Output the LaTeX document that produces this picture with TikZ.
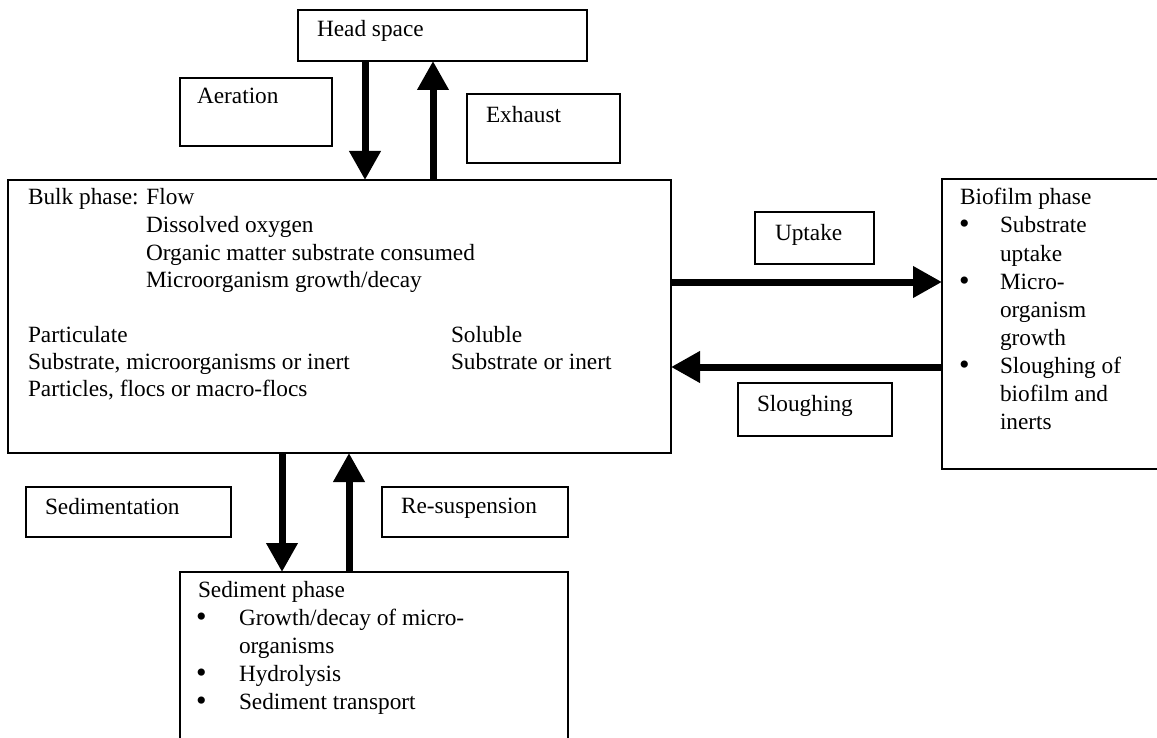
\documentclass[tikz,border=0pt]{standalone}
\usepackage{fontspec}
\setmainfont{Liberation Serif}
\usetikzlibrary{arrows.meta}
\newcommand\fs{\fontsize{11.65}{14}\selectfont}
\newcommand\mybox[5]{\node[box, minimum width=#4*0.5pt, minimum height=#5*0.5pt] (#1) at (#2,#3) {};}
\tikzset{
  box/.style={draw, line width=1pt, inner sep=0pt, outer sep=0pt, anchor=north west},
  txt/.style={anchor=base west, inner sep=0pt, outer sep=0pt, font=\fs},
  bul/.style={anchor=base west, inner sep=0pt, outer sep=0pt, font=\fontsize{15}{15}\selectfont},
  flow/.style={line width=3.5pt, -{Triangle[length=14.5pt,width=15pt]}}
}
\begin{document}
\begin{tikzpicture}[x=0.5pt, y=-0.5pt]
\useasboundingbox (0,0) rectangle (1157,738);
\clip (0,0) rectangle (1157,738);
\fill[white] (0,0) rectangle (1157,738);
% boxes
\mybox{head}{298}{10}{289}{51}
\mybox{aer}{180}{78}{152}{68}
\mybox{exh}{467}{94}{153}{69}
\mybox{bulk}{8}{180}{663}{273}
\mybox{upt}{755}{212}{119}{52}
\mybox{slo}{738}{383}{154}{53}
\mybox{bio}{942}{179}{240}{290}
\mybox{sedb}{26}{487}{205}{50}
\mybox{resb}{382}{487}{186}{50}
\mybox{sed}{180}{572}{388}{190}
% labels
\node[txt] (thead) at (317,37) {Head space};
\node[txt] (taer) at (197,104) {Aeration};
\node[txt] (texh) at (486,123) {Exhaust};
\node[txt] (tupt) at (775,240) {Uptake};
\node[txt] (tslo) at (757,411) {Sloughing};
\node[txt] (tsedb) at (45,514) {Sedimentation};
\node[txt] (tresb) at (401,513) {Re-suspension};
% bulk text
\node[txt] (b1) at (28,205) {Bulk phase: Flow};
\node[txt] (b2) at (146,232) {Dissolved oxygen};
\node[txt] (b3) at (146,260) {Organic matter substrate consumed};
\node[txt] (b4) at (146,287) {Microorganism growth/decay};
\node[txt] (b5) at (28,342) {Particulate};
\node[txt] (b6) at (28,369) {Substrate, microorganisms or inert};
\node[txt] (b7) at (28,396) {Particles, flocs or macro-flocs};
\node[txt] (b8) at (451,342) {Soluble};
\node[txt] (b9) at (451,369) {Substrate or inert};
% biofilm text
\node[txt] (f0) at (960,205) {Biofilm phase};
\node[bul] (fb1) at (959,234) {•};
\node[txt] (f1) at (1000,233) {Substrate};
\node[txt] (f2) at (1000,261) {uptake};
\node[bul] (fb2) at (959,290) {•};
\node[txt] (f3) at (1000,289) {Micro-};
\node[txt] (f4) at (1000,317) {organism};
\node[txt] (f5) at (1000,345) {growth};
\node[bul] (fb3) at (959,374) {•};
\node[txt] (f6) at (1000,373) {Sloughing of};
\node[txt] (f7) at (1000,401) {biofilm and};
\node[txt] (f8) at (1000,429) {inerts};
% sediment text
\node[txt] (s0) at (198,597) {Sediment phase};
\node[bul] (sb1) at (196,626) {•};
\node[txt] (s1) at (239,625) {Growth/decay of micro-};
\node[txt] (s2) at (239,653) {organisms};
\node[bul] (sb2) at (196,682) {•};
\node[txt] (s3) at (239,681) {Hydrolysis};
\node[bul] (sb3) at (196,710) {•};
\node[txt] (s4) at (239,709) {Sediment transport};
% arrow positions
\coordinate (ax1) at (365,0);
\coordinate (ax2) at (433,0);
\coordinate (ax3) at (282,0);
\coordinate (ax4) at (349,0);
\coordinate (ay1) at (0,282);
\coordinate (ay2) at (0,367);
% connectors
\draw[flow] (head.south -| ax1) -- (bulk.north -| ax1);
\draw[flow] (bulk.north -| ax2) -- (head.south -| ax2);
\draw[flow] (bulk.east |- ay1) -- (bio.west |- ay1);
\draw[flow] (bio.west |- ay2) -- (bulk.east |- ay2);
\draw[flow] (bulk.south -| ax3) -- (sed.north -| ax3);
\draw[flow] (sed.north -| ax4) -- (bulk.south -| ax4);
\end{tikzpicture}
\end{document}
